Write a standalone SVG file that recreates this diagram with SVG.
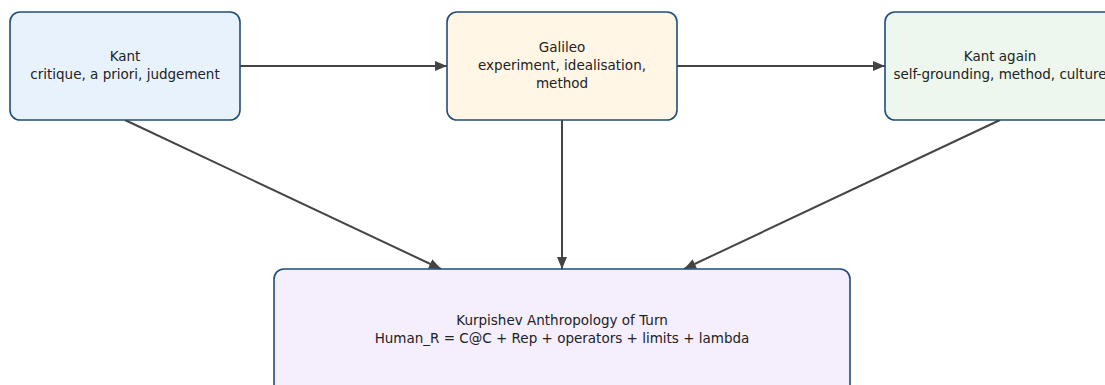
<svg xmlns="http://www.w3.org/2000/svg" width="1105" height="385" viewBox="0 0 1105 385">
<defs>
<marker id="ah" viewBox="0 0 12 10" refX="12" refY="5" markerWidth="12" markerHeight="10" orient="auto" markerUnits="userSpaceOnUse">
<path d="M0,0 L12,5 L0,10 z" fill="#444"/>
</marker>
<style>
.box{stroke:#1f4e79;stroke-width:1.6}
.t{font-family:"DejaVu Sans",sans-serif;font-size:13.5px;fill:#222;text-anchor:middle}
.c{stroke:#444;stroke-width:2;fill:none;marker-end:url(#ah)}
</style>
</defs>
<rect width="1105" height="385" fill="#fff"/>
<g id="connectors">
<line class="c" x1="240" y1="66" x2="447" y2="66"/>
<line class="c" x1="677" y1="66" x2="885" y2="66"/>
<line class="c" x1="125" y1="120" x2="441" y2="269"/>
<line class="c" x1="562" y1="120" x2="562" y2="269"/>
<line class="c" x1="1000" y1="120" x2="684" y2="269"/>
</g>
<g id="kant">
<rect class="box" x="10" y="12" width="230" height="108" rx="10" fill="#e8f2fd"/>
<text class="t" x="125" y="61">Kant</text>
<text class="t" x="125" y="79">critique, a priori, judgement</text>
</g>
<g id="galileo">
<rect class="box" x="447" y="12" width="230" height="108" rx="10" fill="#fff6e6"/>
<text class="t" x="562" y="52">Galileo</text>
<text class="t" x="562" y="70">experiment, idealisation,</text>
<text class="t" x="562" y="88">method</text>
</g>
<g id="kant-again">
<rect class="box" x="885" y="12" width="230" height="108" rx="10" fill="#edf7ed"/>
<text class="t" x="1000" y="61">Kant again</text>
<text class="t" x="1000" y="79">self-grounding, method, culture</text>
</g>
<g id="kurpishev">
<rect class="box" x="274" y="269" width="576" height="126" rx="10" fill="#f5eefc"/>
<text class="t" x="562" y="325">Kurpishev Anthropology of Turn</text>
<text class="t" x="562" y="343">Human_R = C@C + Rep + operators + limits + lambda</text>
</g>
</svg>
